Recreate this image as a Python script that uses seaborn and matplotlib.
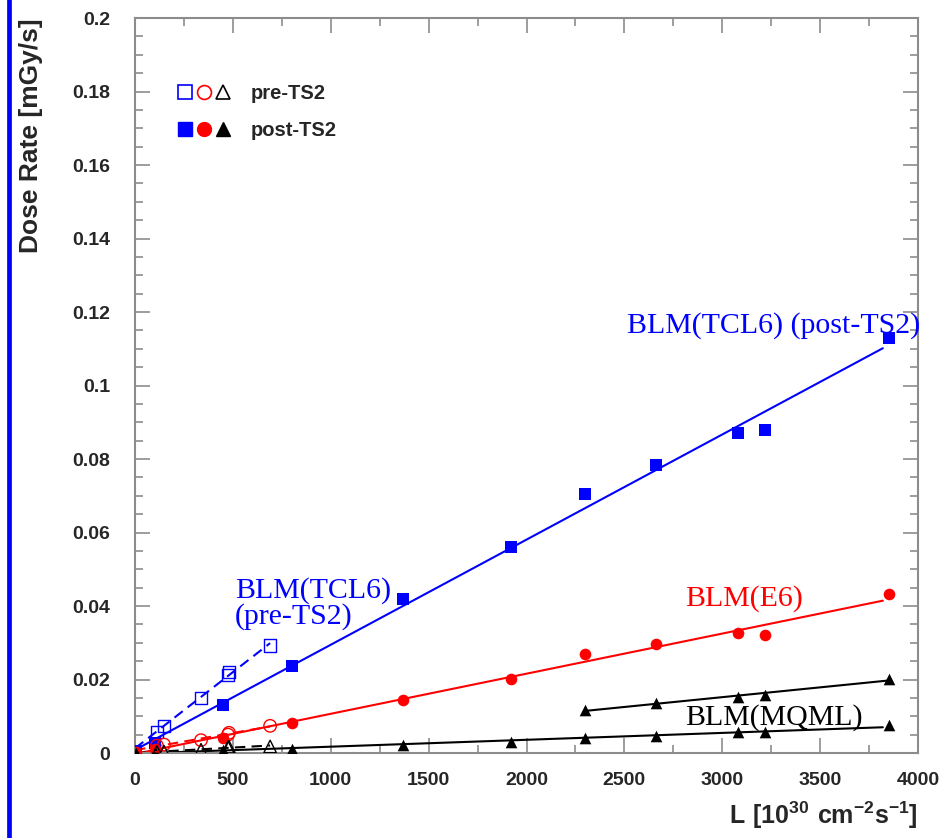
## dose rate vs luminosity for the BLMs, pre/post TS2

import numpy as np
import matplotlib
matplotlib.use("Agg")
import matplotlib.pyplot as plt
import seaborn as sns
from matplotlib.lines import Line2D
from matplotlib.legend_handler import HandlerTuple
from matplotlib.ticker import MultipleLocator, FuncFormatter

## post-TS2 measurements (L in 10^30 cm^-2 s^-1, dose rate in mGy/s)
lumi_post = [5, 100, 450, 800, 1370, 1920, 2300, 2660, 3080, 3220, 3850]
tcl6_post = [0.0005, 0.0027, 0.0131, 0.0237, 0.042, 0.056, 0.0705, 0.0783,
             0.087, 0.0878, 0.113]
e6_post = [0.0002, 0.001, 0.0042, 0.0082, 0.0145, 0.0201, 0.027, 0.0298,
           0.0326, 0.0322, 0.0432]
mqml_post = [0.0001, 0.0004, 0.0007, 0.0011, 0.0022, 0.003, 0.0042, 0.0047,
             0.0057, 0.0058, 0.0075]

## second MQML set (only at high luminosity)
lumi_post_hi = [2300, 2660, 3080, 3220, 3850]
mqml_post_hi = [0.0117, 0.0136, 0.0153, 0.0158, 0.0202]

## pre-TS2 measurements
lumi_pre = [112, 148, 337, 475, 480, 690]
tcl6_pre = [0.0057, 0.0074, 0.015, 0.0213, 0.022, 0.0293]
e6_pre = [0.002, 0.0023, 0.0035, 0.005, 0.0055, 0.0074]
mqml_pre = [0.0003, 0.0004, 0.0009, 0.0016, 0.0017, 0.0018]

## ranges over which the linear fits are drawn
fit_range_post = [0, 3820]
fit_range_hi = [2300, 3850]
fit_range_pre = [0, 690]

sns.set_style("ticks")
plt.rcParams["font.family"] = ["Liberation Sans", "DejaVu Sans"]
plt.rcParams["mathtext.fontset"] = "custom"
plt.rcParams["mathtext.rm"] = "Liberation Sans"
plt.rcParams["mathtext.bf"] = "Liberation Sans:bold"

fig = plt.figure(figsize=(9.45, 8.38), dpi=100)
ax = fig.add_axes([0.1429, 0.1014, 0.8286, 0.8771])


def fit_line(x, y, rng, color, ls="-"):
    p = np.polyfit(x, y, 1)
    xs = np.array(rng, dtype=float)
    sns.lineplot(x=xs, y=np.polyval(p, xs), color=color, linewidth=1.5,
                 linestyle=ls, ax=ax)


## fits
fit_line(lumi_post, tcl6_post, fit_range_post, "blue")
fit_line(lumi_post, e6_post, fit_range_post, "red")
fit_line(lumi_post, mqml_post, fit_range_post, "black")
fit_line(lumi_post_hi, mqml_post_hi, fit_range_hi, "black")
fit_line(lumi_pre, tcl6_pre, fit_range_pre, "blue", (0, (5, 3)))
fit_line(lumi_pre, e6_pre, fit_range_pre, "red", (0, (5, 3)))
fit_line(lumi_pre, mqml_pre, fit_range_pre, "black", (0, (5, 3)))

## filled markers: post-TS2
for y, m, c in [(tcl6_post, "s", "blue"), (e6_post, "o", "red"),
                (mqml_post, "^", "black")]:
    sns.scatterplot(x=lumi_post, y=y, marker=m, s=70, color=c, edgecolor=c,
                    linewidth=0, ax=ax, zorder=3)
sns.scatterplot(x=lumi_post_hi, y=mqml_post_hi, marker="^", s=70,
                color="black", edgecolor="black", linewidth=0, ax=ax, zorder=3)

## open markers: pre-TS2
for y, m, c in [(tcl6_pre, "s", "blue"), (e6_pre, "o", "red"),
                (mqml_pre, "^", "black")]:
    sns.scatterplot(x=lumi_pre, y=y, marker=m, s=80, facecolor="none",
                    edgecolor=c, linewidth=1.0, ax=ax, zorder=3)

## labels on the plot
serif = dict(family=["Liberation Serif", "DejaVu Serif"], fontsize=21.5)
ax.text(2513, 0.1144, "BLM(TCL6) (post-TS2)", color="blue", **serif)
ax.text(511, 0.0422, "BLM(TCL6)", color="blue", **serif)
ax.text(511, 0.0352, "(pre-TS2)", color="blue", **serif)
ax.text(2810, 0.0401, "BLM(E6)", color="red", **serif)
ax.text(2810, 0.0076, "BLM(MQML)", color="black", **serif)

## legend
h_pre = tuple(Line2D([], [], marker=m, ls="", mfc="none", mec=c, ms=10,
                     mew=1.2) for m, c in [("s", "blue"), ("o", "red"),
                                           ("^", "black")])
h_post = tuple(Line2D([], [], marker=m, ls="", mfc=c, mec=c, ms=10)
               for m, c in [("s", "blue"), ("o", "red"), ("^", "black")])
ax.legend([h_pre, h_post], ["pre-TS2", "post-TS2"],
          handler_map={tuple: HandlerTuple(ndivide=None, pad=0.15)},
          loc="upper left", bbox_to_anchor=(0.03, 0.935), frameon=False,
          prop={"weight": "bold", "size": 14.5}, handlelength=2.7,
          handletextpad=1.0, labelspacing=0.88)

## axes
ax.set_xlim(0, 4000)
ax.set_ylim(0, 0.2)
ax.xaxis.set_major_locator(MultipleLocator(500))
ax.xaxis.set_minor_locator(MultipleLocator(250))
ax.yaxis.set_major_locator(MultipleLocator(0.02))
ax.yaxis.set_minor_locator(MultipleLocator(0.005))
ax.yaxis.set_major_formatter(FuncFormatter(lambda v, pos: "%g" % round(v, 4)))
ax.xaxis.set_major_formatter(FuncFormatter(lambda v, pos: "%g" % v))

frame = "#8c8c8c"
for sp in ax.spines.values():
    sp.set_color(frame)
    sp.set_linewidth(1.5)
ax.tick_params(which="both", direction="in", top=True, right=True,
               color=frame, width=1.2, labelsize=14)
ax.tick_params(which="major", length=11)
ax.tick_params(which="minor", length=5.5)
ax.tick_params(axis="y", pad=18)
ax.tick_params(axis="x", pad=14)
for lbl in ax.get_xticklabels() + ax.get_yticklabels():
    lbl.set_fontweight("bold")

ax.set_ylabel("Dose Rate [mGy/s]", fontsize=19, fontweight="bold", loc="top")
ax.yaxis.set_label_coords(-0.117, 1.0)
ax.set_xlabel(r"$\mathbf{L\ [10^{30}\ cm^{-2}s^{-1}]}$", fontsize=18,
              loc="right")
ax.xaxis.set_label_coords(1.0, -0.064)

## blue border line at the left edge of the page
fig.add_artist(Line2D([0.0092, 0.0092], [0, 1], transform=fig.transFigure,
                      color="blue", linewidth=3.4))

fig.savefig("out.png", dpi=100)
